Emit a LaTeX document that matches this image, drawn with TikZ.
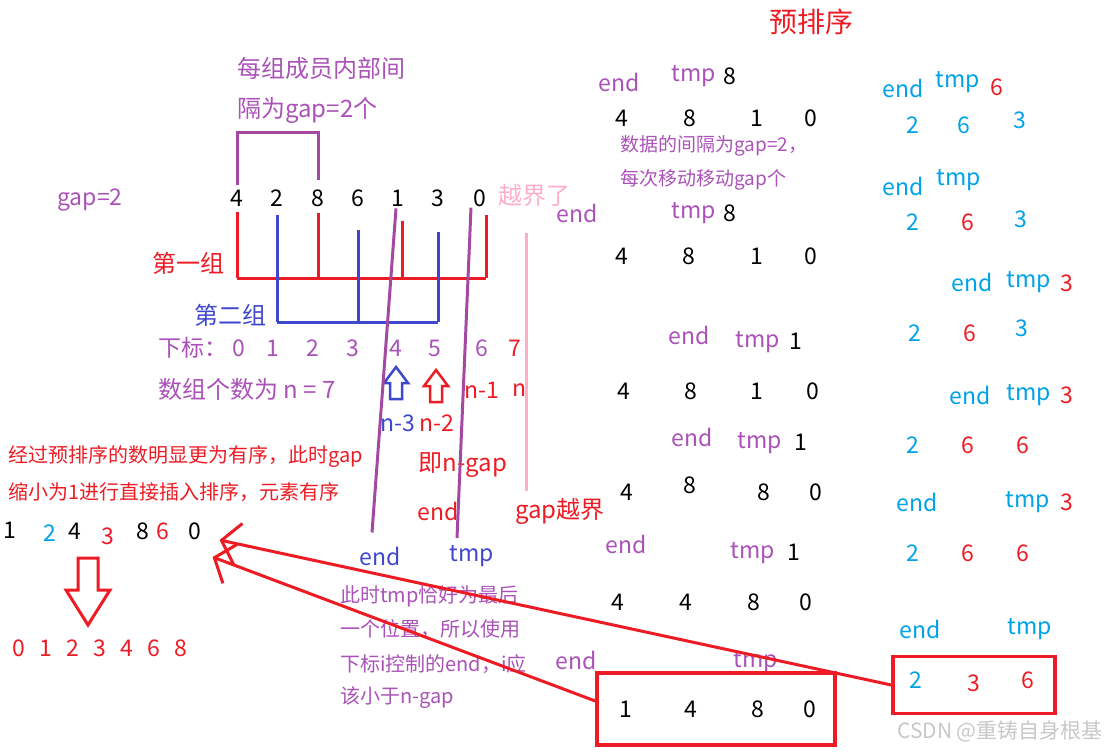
\documentclass[tikz,border=0pt]{standalone}
\usepackage{fontspec}
\setmainfont{Noto Sans CJK SC}
\usetikzlibrary{arrows.meta,positioning,calc}
\definecolor{mRed}{RGB}{237,28,36}
\definecolor{mPurple}{RGB}{163,73,164}
\definecolor{mText}{RGB}{170,82,184}
\definecolor{mBlue}{RGB}{63,72,204}
\definecolor{mCyan}{RGB}{0,162,232}
\definecolor{mPink}{RGB}{255,174,201}
\tikzset{
  txt/.style={inner sep=0pt, font=\fontsize{23}{26}\selectfont},
  bigtxt/.style={inner sep=0pt, font=\fontsize{24}{28}\selectfont},
  note/.style={inner sep=0pt, anchor=west, font=\fontsize{20}{24}\selectfont},
  grpln/.style={line width=3pt},
  ptrln/.style={line width=3pt, mPurple},
  backln/.style={-{Straight Barb[length=17pt,width=42pt]}, line width=3pt, mRed},
  resbox/.style={draw=mRed, line width=3.5pt, inner sep=0pt},
}
\newcommand{\hollowarr}[2]{%
  \draw[#1, line width=2.5pt, line join=miter] #2
    ++(0,-16) -- ++(12,16) -- ++(-6,0) -- ++(0,16) -- ++(-12,0)
    -- ++(0,-16) -- ++(-6,0) -- cycle;
}

\begin{document}
\begin{tikzpicture}[x=1pt,y=-1pt]
    \useasboundingbox (0,0) rectangle (1110,752);
    \node[inner sep=0pt, mRed, font=\fontsize{28}{30}\selectfont] (title) at (811,22) {预排序};
    % gap = 2, the two groups
    \node[bigtxt, mText, anchor=west] (gapnoteA) at (237,68) {每组成员内部间};
    \node[bigtxt, mText, anchor=west] (gapnoteB) at (237,110) {隔为gap=2个};
    \node[txt, mText] (gapval) at (90,200) {gap=2};
    \foreach \x/\v [count=\k] in {237/4,277/2,318/8,358/6,398/1,438/3,480/0}
      \node[txt] (a\k) at (\x,198) {\v};
    \node[bigtxt, mPink, anchor=west] (oob) at (498,195) {越界了};
    \draw[ptrln] ([yshift=5pt]a1.north) -- ++(0,-52) -| ([yshift=9pt]a3.north);
    \coordinate (barA) at (0,278);
    \coordinate (barB) at (0,322);
    \foreach \n/\dx/\dy in {1/0/6,3/0/6,5/4/15,7/6/8}
      \draw[grpln, mRed] ([shift={(\dx,\dy)}]a\n.south) -- ([xshift=\dx pt]a\n.south |- barA);
    \draw[grpln, mRed] (a1.south |- barA) -- ([xshift=6pt]a7.south |- barA);
    \foreach \n/\dy in {2/8,4/23,6/25}
      \draw[grpln, mBlue] ([yshift=-\dy pt]a\n.south) -- (a\n.south |- barB);
    \draw[grpln, mBlue] (a2.south |- barB) -- (a6.south |- barB);
    \node[bigtxt, mRed] (grpA) at (188,263) {第一组};
    \node[bigtxt, mBlue] (grpB) at (230,315) {第二组};
    \draw[mPink, line width=3pt] ([shift={(-8,27)}]oob.south) -- ++(0,258);
    % indices
    \node[txt, mText, anchor=west] (idx) at (158,348) {下标：};
    \foreach \x/\v/\c in {239/0/mText,273/1/mText,313/2/mText,353/3/mText,
                          396/4/mText,435/5/mText,482/6/mText,515/7/mRed}
      \node[txt, \c] (i\v) at (\x,348) {\v};
    \node[bigtxt, mText, anchor=west] (cnt) at (158,389) {数组个数为 n = 7};
    \hollowarr{mBlue}{(396,383)}
    \hollowarr{mRed}{(436,386)}
    \node[txt, mRed] (nA) at (482,390) {n-1};
    \node[txt, mRed] (nB) at (520,390) {n};
    \node[txt, mBlue] (nD) at (398,423) {n-3};
    \node[txt, mRed] (nC) at (437,423) {n-2};
    \node[bigtxt, mRed] (ngap) at (463,465) {即n-gap};
    \node[txt, mRed] (endR) at (438,511) {end};
    \node[bigtxt, mRed] (gapoob) at (560,511) {gap越界};
    % end / tmp of the last step
    \node[txt, mBlue] (endB) at (380,556) {end};
    \node[txt, mBlue] (tmpB) at (472,556) {tmp};
    \draw[ptrln] ([shift={(-8,-14)}]endB.north) -- ([shift={(-2,2)}]a5.south);
    \draw[ptrln] ([shift={(-15,-7)}]tmpB.north) -- ([shift={(-9,1)}]a7.south);
    \node[note, mText] (tmpnoteA) at (340,596) {此时tmp恰好为最后};
    \node[note, mText] (tmpnoteB) at (340,629) {一个位置，所以使用};
    \node[note, mText] (tmpnoteC) at (340,664) {下标i控制的end，i应};
    \node[note, mText] (tmpnoteD) at (340,698) {该小于n-gap};
    % after the pre-sort
    \node[note, mRed] (hintA) at (8,457) {经过预排序的数明显更为有序，此时gap};
    \node[note, mRed] (hintB) at (8,492) {缩小为1进行直接插入排序，元素有序};
    \foreach \x/\y/\v/\c [count=\k] in {10/530/1/black,50/533/2/mCyan,75/531/4/black,108/536/3/mRed,
                                       143/531/8/black,163/531/6/mRed,195/531/0/black}
      \node[txt, \c] (b\k) at (\x,\y) {\v};
    \draw[mRed, line width=3pt, line join=miter]
      (78,558) -- (98,558) -- (98,590) -- (110,590) -- (88,625) -- (66,590) -- (78,590) -- cycle;
    \foreach \v [count=\k from 0] in {0,1,2,3,4,6,8}
      \node[txt, mRed] (s\k) at (19+27*\k,648) {\v};
    % group one
    \node[txt, mText] (endA1) at (619,82) {end};
    \node[txt, mText] (tmpA1) at (694,76) {tmp};
    \node[txt] (valA1) at (730,76) {8};
    \foreach \x/\v [count=\k] in {622/4,690/8,757/1,811/0}
      \node[txt] (rA\k) at (\x,118) {\v};
    \node[note, mText, font=\fontsize{19}{22}\selectfont] (stepA) at (620,146) {数据的间隔为gap=2，};
    \node[note, mText, font=\fontsize{19}{22}\selectfont] (stepB) at (620,180) {每次移动移动gap个};
    \node[txt, mText] (endA2) at (577,213) {end};
    \node[txt, mText] (tmpA2) at (694,213) {tmp};
    \node[txt] (valA2) at (730,213) {8};
    \foreach \x/\v [count=\k] in {622/4,689/8,757/1,811/0}
      \node[txt] (rB\k) at (\x,256) {\v};
    \node[txt, mText] (endA3) at (689,335) {end};
    \node[txt, mText] (tmpA3) at (758,342) {tmp};
    \node[txt] (valA3) at (796,341) {1};
    \foreach \x/\v [count=\k] in {624/4,691/8,757/1,813/0}
      \node[txt] (rC\k) at (\x,391) {\v};
    \node[txt, mText] (endA4) at (692,437) {end};
    \node[txt, mText] (tmpA4) at (760,443) {tmp};
    \node[txt] (valA4) at (801,442) {1};
    \foreach \x/\y/\v [count=\k] in {627/492/4,690/485/8,764/492/8,816/492/0}
      \node[txt] (rD\k) at (\x,\y) {\v};
    \node[txt, mText] (endA5) at (626,544) {end};
    \node[txt, mText] (tmpA5) at (753,553) {tmp};
    \node[txt] (valA5) at (794,552) {1};
    \foreach \x/\v [count=\k] in {618/4,686/4,754/8,806/0}
      \node[txt] (rE\k) at (\x,602) {\v};
    \node[txt, mText] (endA6) at (576,660) {end};
    \node[txt, mText] (tmpA6) at (756,662) {tmp};
    \node[resbox, minimum width=238pt, minimum height=72pt] (boxM) at (716,709) {};
    \foreach \x/\v [count=\k] in {626/1,691/4,758/8,810/0}
      \node[txt] (rF\k) at (\x,709) {\v};
    % group two
    \node[txt, mCyan] (endC1) at (903,88) {end};
    \node[txt, mCyan] (tmpC1) at (958,82) {tmp};
    \node[txt, mRed] (valC1) at (997,87) {6};
    \foreach \x/\y/\v/\c [count=\k] in {913/125/2/mCyan,964/125/6/mCyan,1020/120/3/mCyan}
      \node[txt, \c] (qA\k) at (\x,\y) {\v};
    \node[txt, mCyan] (endC2) at (903,186) {end};
    \node[txt, mCyan] (tmpC2) at (959,180) {tmp};
    \foreach \x/\y/\v/\c [count=\k] in {913/222/2/mCyan,968/222/6/mRed,1021/219/3/mCyan}
      \node[txt, \c] (qB\k) at (\x,\y) {\v};
    \node[txt, mCyan] (endC3) at (972,282) {end};
    \node[txt, mCyan] (tmpC3) at (1029,282) {tmp};
    \node[txt, mRed] (valC3) at (1067,283) {3};
    \foreach \x/\y/\v/\c [count=\k] in {915/333/2/mCyan,970/333/6/mRed,1022/328/3/mCyan}
      \node[txt, \c] (qC\k) at (\x,\y) {\v};
    \node[txt, mCyan] (endC4) at (970,395) {end};
    \node[txt, mCyan] (tmpC4) at (1029,395) {tmp};
    \node[txt, mRed] (valC4) at (1067,395) {3};
    \foreach \x/\y/\v/\c [count=\k] in {913/445/2/mCyan,968/445/6/mRed,1023/445/6/mRed}
      \node[txt, \c] (qD\k) at (\x,\y) {\v};
    \node[txt, mCyan] (endC5) at (917,502) {end};
    \node[txt, mCyan] (tmpC5) at (1028,502) {tmp};
    \node[txt, mRed] (valC5) at (1067,502) {3};
    \foreach \x/\y/\v/\c [count=\k] in {913/553/2/mCyan,968/553/6/mRed,1023/553/6/mRed}
      \node[txt, \c] (qE\k) at (\x,\y) {\v};
    \node[txt, mCyan] (endC6) at (920,629) {end};
    \node[txt, mCyan] (tmpC6) at (1030,629) {tmp};
    \node[resbox, minimum width=162pt, minimum height=57pt] (boxR) at (974,685) {};
    \foreach \x/\y/\v/\c [count=\k] in {916/680/2/mCyan,974/683/3/mRed,1028/680/6/mRed}
      \node[txt, \c] (qF\k) at (\x,\y) {\v};
    % back to the sorted array
    \draw[backln] (boxR.west) -- ([shift={(18,9)}]b7.east);
    \draw[backln] ([yshift=8pt]boxM.west) -- ([shift={(11,26)}]b7.east);
    \node[inner sep=0pt, black!22, font=\fontsize{21}{24}\selectfont] (mark) at (1000,731) {CSDN @重铸自身根基};
  \end{tikzpicture}
\end{document}
